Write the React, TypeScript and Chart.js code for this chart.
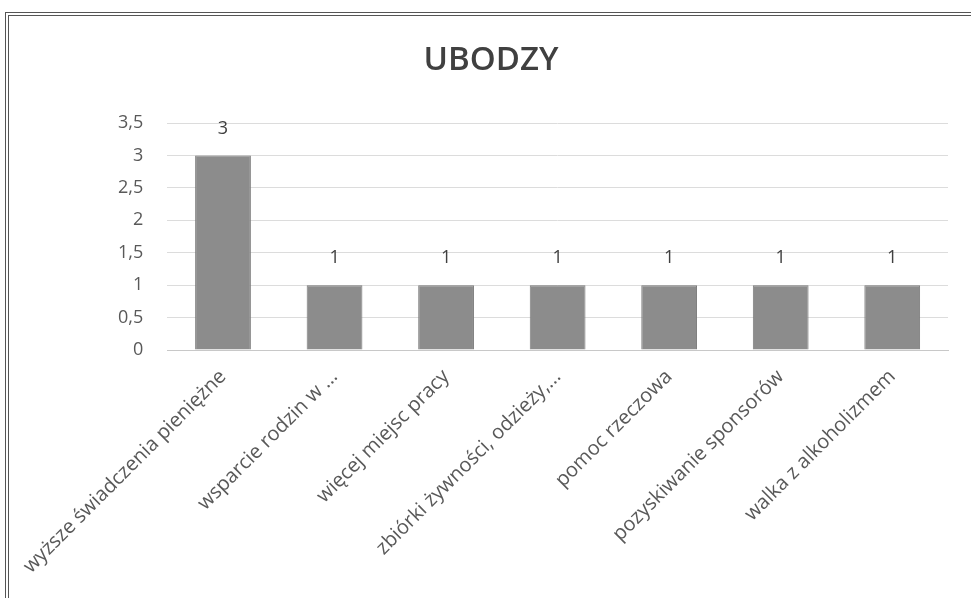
import React, { useEffect, useRef } from "react";
import { Chart, registerables } from "chart.js";

Chart.register(...registerables);

const chartTitle = "UBODZY";
const categories = [
  "wyższe świadczenia pieniężne",
  "wsparcie rodzin w ...",
  "więcej miejsc pracy",
  "zbiórki żywności, odzieży,...",
  "pomoc rzeczowa",
  "pozyskiwanie sponsorów",
  "walka z alkoholizmem",
];
const values = [3, 1, 1, 1, 1, 1, 1];
const yMax = 3.5;
const yStep = 0.5;

const FONT = "'Open Sans', 'Liberation Sans', sans-serif";

const valueLabels = {
  id: "valueLabels",
  afterDatasetsDraw(chart: any) {
    const ctx = chart.ctx;
    const meta = chart.getDatasetMeta(0);
    ctx.save();
    ctx.font = `18px ${FONT}`;
    ctx.fillStyle = "#404040";
    ctx.textAlign = "center";
    ctx.textBaseline = "middle";
    meta.data.forEach((bar: any, i: number) => {
      ctx.fillText(String(values[i]), bar.x, bar.y - 27);
    });
    ctx.restore();
  },
};

const titleText = {
  id: "titleText",
  afterDraw(chart: any) {
    const ctx = chart.ctx;
    ctx.save();
    ctx.font = `600 33px ${FONT}`;
    ctx.fillStyle = "#404040";
    ctx.textAlign = "center";
    ctx.textBaseline = "middle";
    ctx.fillText(chartTitle, 491, 61);
    ctx.restore();
  },
};

export default function App() {
  const ref = useRef<HTMLCanvasElement | null>(null);
  useEffect(() => {
    if (!ref.current) return;
    const chart = new Chart(ref.current, {
      type: "bar",
      data: {
        labels: categories,
        datasets: [
          {
            data: values,
            backgroundColor: "#8c8c8c",
            borderColor: "#7a7a7a",
            borderWidth: 1,
            categoryPercentage: 1,
            barPercentage: 0.5,
          },
        ],
      },
      options: {
        animation: false,
        responsive: false,
        layout: { padding: { left: 0, right: 23, top: 123, bottom: 0 } },
        plugins: {
          legend: { display: false },
          tooltip: { enabled: false },
          title: { display: false },
        },
        scales: {
          x: {
            grid: { display: false, drawTicks: false },
            border: { display: true, color: "#c8c8c8" },
            ticks: {
              autoSkip: false,
              maxRotation: 45,
              minRotation: 45,
              padding: 15,
              color: "#595959",
              font: { family: FONT, size: 20 },
            },
            afterFit(scale: any) {
              scale.height = 248;
            },
          },
          y: {
            min: 0,
            max: yMax,
            grid: { color: "#dcdcdc", drawTicks: false },
            border: { display: false },
            ticks: {
              stepSize: yStep,
              padding: 24,
              color: "#595959",
              font: { family: FONT, size: 18 },
              callback: (v: any) => String(v).replace(".", ","),
            },
            afterFit(scale: any) {
              scale.width = 166;
            },
          },
        },
      },
      plugins: [valueLabels, titleText],
    });
    return () => chart.destroy();
  }, []);
  return (
    <div style={{ position: "fixed", left: 0, top: 0, width: 971, height: 598, background: "#fff", overflow: "hidden" }}>
      <canvas ref={ref} width={971} height={598} style={{ display: "block" }} />
      <div
        style={{
          position: "absolute",
          left: 5,
          top: 12,
          width: 1200,
          height: 1200,
          borderLeft: "4px double #555",
          borderTop: "4px double #555",
          pointerEvents: "none",
        }}
      />
    </div>
  );
}
